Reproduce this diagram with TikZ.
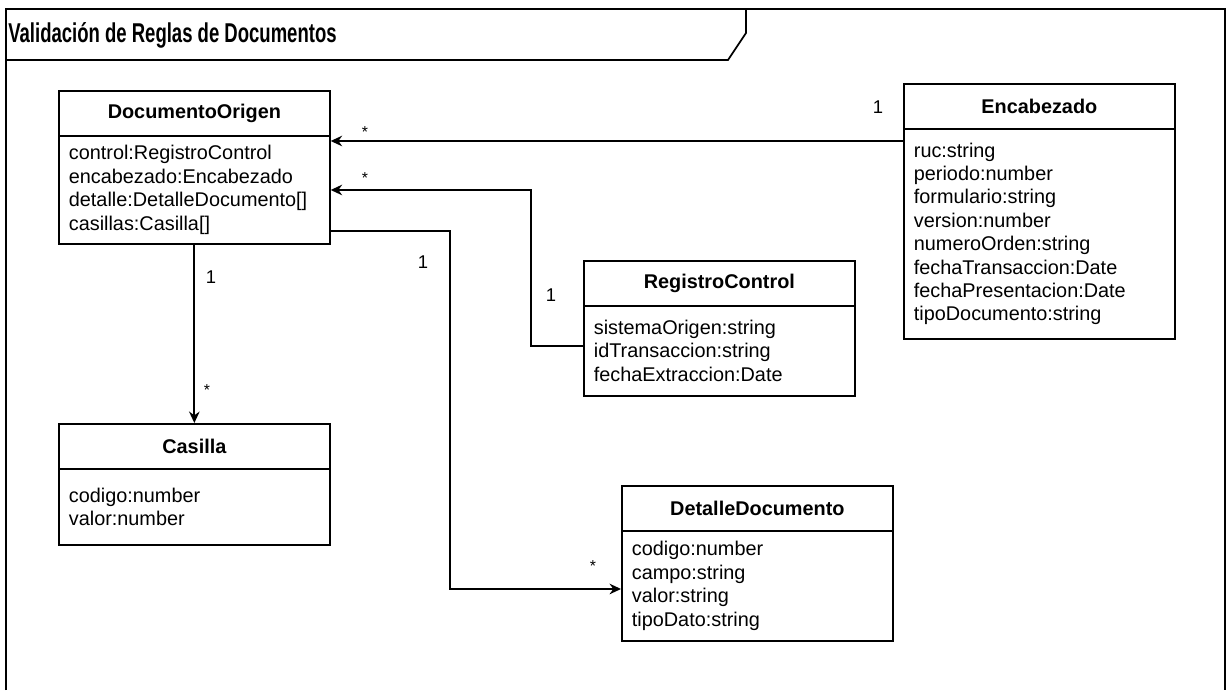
\documentclass[tikz,border=0pt]{standalone}
\usepackage{fontspec}
\setmainfont{Liberation Sans}
\newfontfamily\titlefont[FakeStretch=0.68]{Liberation Sans}
\usetikzlibrary{positioning,arrows.meta}
% one class box: name, corner, title, body height, attributes
\newcommand\umlclass[5]{%
  \node[classhead] (#1) at (#2) {#3};
  \node[classbody,minimum height=#4,below=-1pt of #1] (#1-b) {#5};
}

\begin{document}
\begin{tikzpicture}[x=0.02cm,y=-0.02cm,
    classhead/.style={draw,line width=1pt,anchor=north west,minimum width=5.42cm,
      minimum height=0.9cm,font=\bfseries\fontsize{11.3}{13}\selectfont},
    classbody/.style={draw,line width=1pt,minimum width=5.42cm,text width=5.02cm,
      inner xsep=0.2cm,align=left,font=\fontsize{11.3}{13.3}\selectfont},
    assoc/.style={line width=1pt,-{Stealth[length=6.5pt,width=6pt]}},
    mult/.style={inner sep=0pt,font=\fontsize{10.5}{12}\selectfont},
    star/.style={inner sep=0pt,font=\fontsize{9}{10}\selectfont}]
  \useasboundingbox (0,0) rectangle (1226,690);
  % frame and title tab
  \draw[line width=1pt] (6,690) -- (6,9) -- (1225,9) -- (1225,690);
  \draw[line width=1pt] (6,60) -- (728,60) -- (746,33) -- (746,9);
  \node[anchor=base west,inner sep=0pt,font=\titlefont\bfseries\fontsize{15.5}{17}\selectfont]
    (title) at (8,42) {Validación de Reglas de Documentos};

  \umlclass{orig}{58,90}{DocumentoOrigen}{2.16cm}{control:RegistroControl\\encabezado:Encabezado\\detalle:DetalleDocumento[]\\casillas:Casilla[]}
  \umlclass{enc}{903,83}{Encabezado}{4.2cm}{ruc:string\\periodo:number\\formulario:string\\version:number\\numeroOrden:string\\fechaTransaccion:Date\\fechaPresentacion:Date\\tipoDocumento:string}
  \umlclass{reg}{583,260}{RegistroControl}{1.8cm}{sistemaOrigen:string\\idTransaccion:string\\fechaExtraccion:Date}
  \umlclass{cas}{58,423}{Casilla}{1.52cm}{codigo:number\\valor:number}
  \umlclass{det}{621,485}{DetalleDocumento}{2.2cm}{codigo:number\\campo:string\\valor:string\\tipoDato:string}

  % associations
  \coordinate (e1) at ([yshift=-0.26cm]enc-b.north west);
  \draw[assoc] (e1) -- (e1 -| orig-b.east);
  \coordinate (r1) at ([yshift=-0.82cm]reg-b.north west);
  \coordinate (o2) at ([yshift=-1.1cm]orig-b.north east);
  \draw[assoc] (r1) -- ++(-52,0) |- (o2);
  \coordinate (o3) at ([yshift=-1.92cm]orig-b.north east);
  \coordinate (d1) at ([yshift=-1.18cm]det-b.north west);
  \draw[assoc] (o3) -- ++(119,0) |- (d1);
  \draw[assoc] (orig-b.south) -- (cas.north);

  % multiplicities
  \node[mult] (m1) at (878,107) {1};
  \node[star] (m2) at (365,132) {*};
  \node[star] (m3) at (365,178) {*};
  \node[mult] (m4) at (551,295) {1};
  \node[mult] (m5) at (423,262) {1};
  \node[star] (m6) at (593,566) {*};
  \node[mult] (m7) at (211,277) {1};
  \node[star] (m8) at (207,390) {*};
\end{tikzpicture}
\end{document}
